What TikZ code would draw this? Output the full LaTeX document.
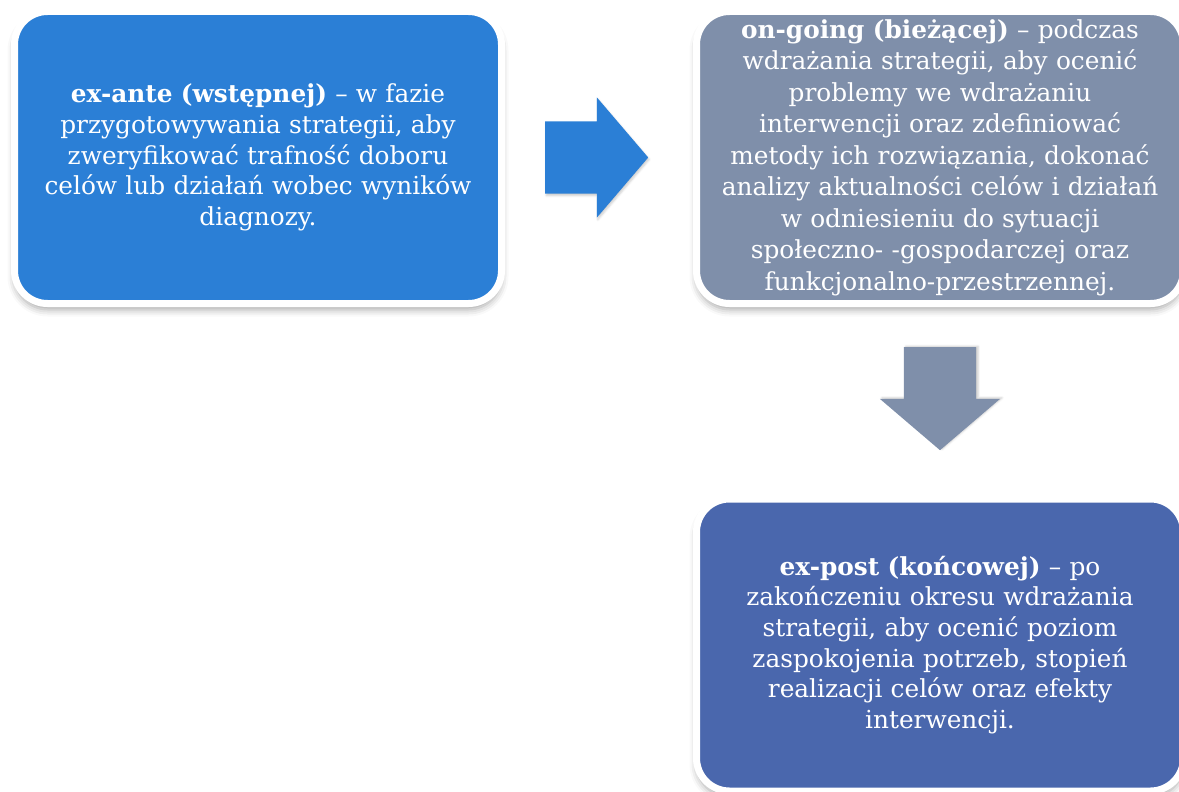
\documentclass[tikz,border=0pt]{standalone}
\usepackage{fontspec}
\setmainfont{DejaVu Serif}
\usetikzlibrary{shapes.arrows,shadows.blur}
\definecolor{anteblue}{RGB}{43,127,214}
\definecolor{goinggray}{RGB}{127,143,170}
\definecolor{postblue}{RGB}{74,103,173}
\newcommand{\stagefont}{\fontsize{24.8}{30.6}\selectfont}
\tikzset{
  stage/.style={rounded corners=33pt, draw=white, line width=7pt,
    minimum width=487pt, minimum height=292pt, text width=476pt,
    align=center, text=white, font=\stagefont,
    blur shadow={shadow xshift=0pt, shadow yshift=-6pt,
      shadow blur radius=7pt, shadow opacity=35}},
  blockarrow/.style={single arrow, draw=none, inner xsep=0pt, inner ysep=36pt,
    minimum height=103pt, anchor=tail,
    single arrow head extend=24pt, single arrow tip angle=99},
  arrowshadow/.style={blur shadow={shadow xshift=#1, shadow yshift=-2pt,
      shadow blur radius=2pt, shadow opacity=20}}
}
\begin{document}
\begin{tikzpicture}[x=1pt,y=-1pt]
\useasboundingbox (0,0) rectangle (1179,792);
% stages of the evaluation
\node[stage, fill=anteblue] (ante) at (258,157.5)
  {\textbf{ex-ante (wstępnej)} – w fazie\\
   przygotowywania strategii, aby\\
   zweryfikować trafność doboru\\
   celów lub działań wobec wyników\\
   diagnozy.};
\node[stage, fill=goinggray, font=\fontsize{24.8}{31.5}\selectfont] (going) at (940,157.5)
  {\textbf{on-going (bieżącej)} – podczas\\
   wdrażania strategii, aby ocenić\\
   problemy we wdrażaniu\\
   interwencji oraz zdefiniować\\
   metody ich rozwiązania, dokonać\\
   analizy aktualności celów i działań\\
   w odniesieniu do sytuacji\\
   społeczno- -gospodarczej oraz\\
   funkcjonalno-przestrzennej.};
\node[stage, fill=postblue] (post) at (940,645)
  {\textbf{ex-post (końcowej)} – po\\
   zakończeniu okresu wdrażania\\
   strategii, aby ocenić poziom\\
   zaspokojenia potrzeb, stopień\\
   realizacji celów oraz efekty\\
   interwencji.};
% arrows between the stages
\node[blockarrow, arrowshadow=1pt, fill=anteblue] (toGoing) at ([xshift=40pt]ante.east) {};
\node[blockarrow, fill=goinggray, rotate=-90,
  blur shadow={shadow xshift=2pt, shadow yshift=1pt,
    shadow blur radius=2pt, shadow opacity=20}] (toPost) at ([yshift=-40pt]going.south) {};
\end{tikzpicture}
\end{document}
